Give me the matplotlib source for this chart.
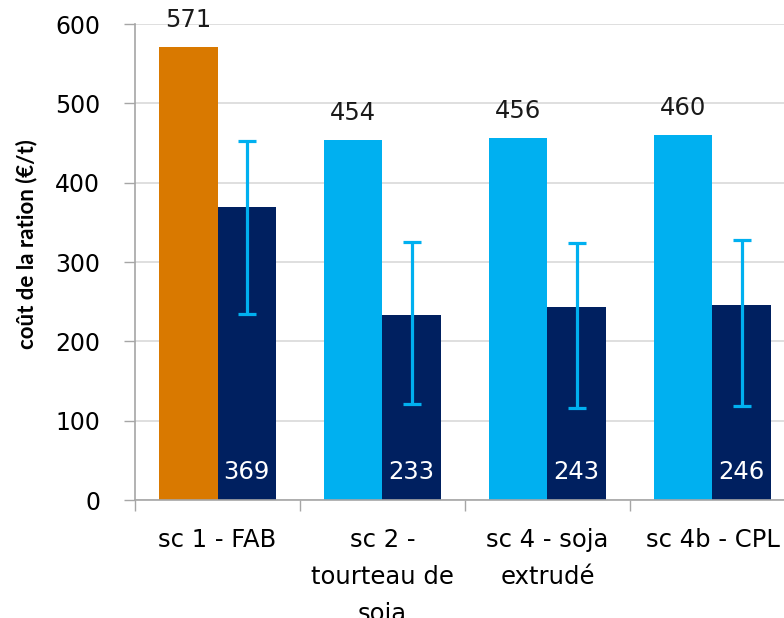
import numpy as np
import matplotlib.pyplot as plt

categories = ['sc 1 - FAB', 'sc 2 -\ntourteau de\nsoja', 'sc 4 - soja\nextrudé', 'sc 4b - CPL']
cost_ref = [571, 454, 456, 460]
cost_opt = [369, 233, 243, 246]
err_low = [235, 121, 116, 119]
err_high = [452, 325, 324, 328]
ref_colors = ['#D97900', '#00B0F0', '#00B0F0', '#00B0F0']

navy = '#002060'
lightblue = '#00B0F0'
grey = '#A6A6A6'

fig = plt.figure(figsize=(7.84, 6.18), dpi=100)
ax = fig.add_axes([0.1722, 0.1909, 0.8418, 0.7702])

x = np.arange(len(categories))
w = 0.355

ax.bar(x - w / 2, cost_ref, width=w, color=ref_colors, zorder=2)
ax.bar(x + w / 2, cost_opt, width=w, color=navy, zorder=2)

# error bars on the optimised series
lo = np.array(cost_opt) - np.array(err_low)
hi = np.array(err_high) - np.array(cost_opt)
ax.errorbar(x + w / 2, cost_opt, yerr=[lo, hi], fmt='none', ecolor=lightblue,
            elinewidth=2.3, capsize=6.5, capthick=2.3, zorder=3)

for xi, v in zip(x, cost_ref):
    ax.text(xi - w / 2, v + 19, str(v), ha='center', va='bottom', fontsize=17.5, color='#1a1a1a')
for xi, v in zip(x, cost_opt):
    ax.text(xi + w / 2, 20, str(v), ha='center', va='bottom', fontsize=17.5, color='white', zorder=4)

ax.set_xlim(-0.5, 3.5)
ax.set_ylim(0, 600)
ax.set_yticks(np.arange(0, 601, 100))
ax.yaxis.grid(True, color='#D9D9D9', linewidth=1.2, zorder=0)
ax.set_axisbelow(True)

ax.set_xticks(np.arange(-0.5, 3.0, 1.0))
ax.set_xticklabels([])
ax.set_xticks(x, minor=True)
ax.set_xticklabels(categories, minor=True, fontsize=17.5, linespacing=1.7)
ax.tick_params(axis='x', which='minor', length=0, pad=20)
ax.tick_params(axis='x', which='major', length=8, color=grey, width=1)
ax.tick_params(axis='y', length=8, color=grey, width=1, labelsize=17, pad=17)

for s in ['top', 'right']:
    ax.spines[s].set_visible(False)
for s in ['left', 'bottom']:
    ax.spines[s].set_color(grey)
    ax.spines[s].set_linewidth(1.2)

ax.set_ylabel('coût de la ration (€/t)', fontsize=16, fontweight='bold',
              family=['Lato', 'DejaVu Sans'])
ax.yaxis.set_label_coords(-0.148, 0.538)

fig.savefig('out.png', dpi=100)
